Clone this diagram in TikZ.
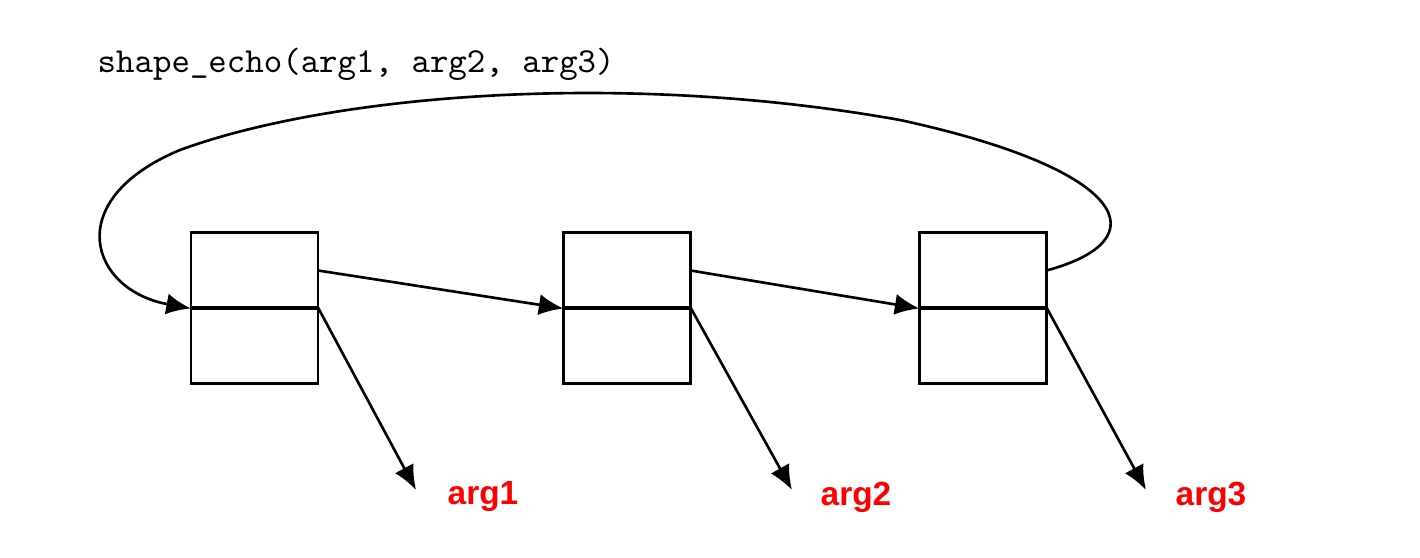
\documentclass[tikz,border=0pt]{standalone}
\usepackage{fontspec}
\newfontfamily\argfont{Liberation Sans}
\usetikzlibrary{arrows.meta}
\begin{document}
\begin{tikzpicture}[x=0.01cm,y=-0.01cm,
  cell/.style={draw,line width=0.75pt,minimum width=127*0.01cm,minimum height=76*0.01cm,inner sep=0,outer sep=0},
  arr/.style={line width=0.75pt,-{Latex[length=7pt,width=6pt]}},
  lbl/.style={text=red,font=\argfont\bfseries\fontsize{9.5}{11}\selectfont,inner sep=0}]
\useasboundingbox (0,0) rectangle (1420,558);
\node[anchor=west,font=\ttfamily\fontsize{10}{12}\selectfont,inner sep=0] (t) at (97,64) {shape\_echo(arg1, arg2, arg3)};
\foreach \n/\x in {1/254.5,2/627,3/983}{
  \node[cell] (a\n) at (\x,270.5) {};
  \node[cell] (b\n) at (\x,345.5) {};
}
\node[lbl] (l1) at (483,497) {arg1};
\node[lbl] (l2) at (856,497) {arg2};
\node[lbl] (l3) at (1211,497) {arg3};
\coordinate (e1) at (416,490);
\coordinate (e2) at (792,490);
\coordinate (e3) at (1146,490);
\draw[arr] (a1.east) -- (a2.south west);
\draw[arr] (a2.east) -- (a3.south west);
\draw[arr] (b1.north east) -- (e1);
\draw[arr] (b2.north east) -- (e2);
\draw[arr] (b3.north east) -- (e3);
\draw[arr] (a3.east) .. controls (1160,240) and (1130,170) .. (900,120)
  .. controls (620,70) and (330,95) .. (180,150)
  .. controls (60,200) and (90,290) .. (a1.south west);
\end{tikzpicture}
\end{document}
